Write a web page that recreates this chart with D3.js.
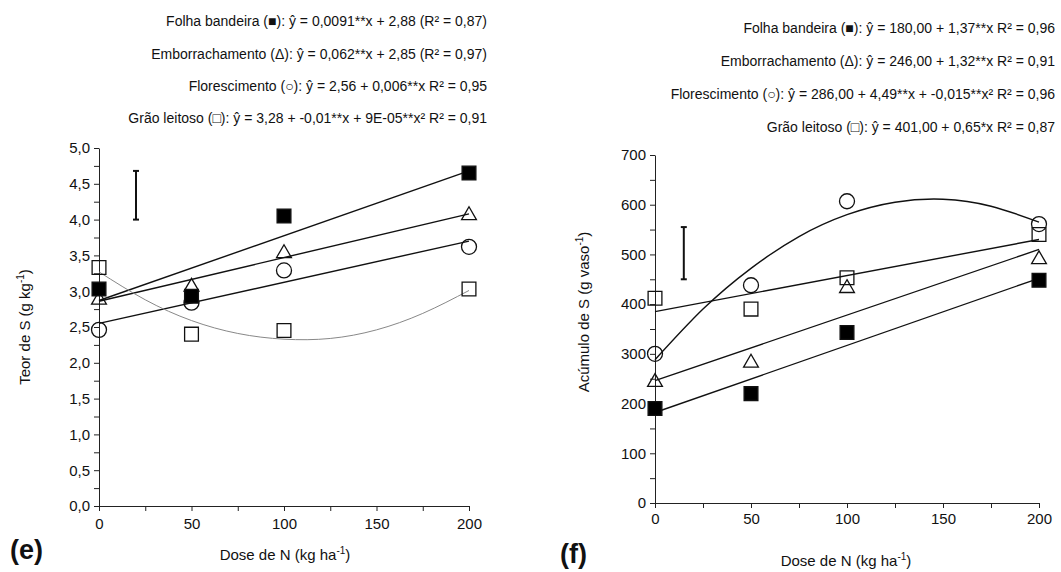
<!DOCTYPE html>
<html lang="pt">
<head>
<meta charset="UTF-8">
<title>Teor e acúmulo de S</title>
<script src="https://d3js.org/d3.v7.min.js"></script>
<style>
    body { margin: 0; background: #fff; }
    text { font-family: "Liberation Sans", Arial, sans-serif; fill: #111; }
    .axis path, .axis line { stroke: #222; stroke-width: 1; }
    .axis text { font-size: 15px; }
</style>
</head>
<body>
<script>
    // doses de N
    var doses = [0, 50, 100, 200];
    var xTicks = [0, 50, 100, 150, 200];

    // (e) teor de S (g kg-1)
    var teorFolha = [3.03, 2.93, 4.05, 4.65];
    var teorEmbor = [2.88, 3.06, 3.53, 4.06];
    var teorFlor = [2.46, 2.84, 3.29, 3.62];
    var teorGrao = [3.33, 2.40, 2.45, 3.03];

    // (f) acúmulo de S (g vaso-1)
    var acumFolha = [190, 220, 343, 448];
    var acumEmbor = [243, 282, 432, 490];
    var acumFlor = [300, 438, 607, 561];
    var acumGrao = [412, 390, 453, 540];

    // fitted lines
    var lineX = [0, 200];
    var teorFolhaFit = [2.87, 4.68];
    var teorEmborFit = [2.86, 4.08];
    var teorFlorFit = [2.55, 3.70];
    var acumFolhaFit = [182, 452];
    var acumEmborFit = [246, 510];
    var acumGraoFit = [385, 530];

    var curveX = [0, 25, 50, 75, 100, 125, 150, 175, 200];
    var teorGraoFit = [3.27, 2.88, 2.59, 2.41, 2.33, 2.34, 2.46, 2.69, 3.01];
    var acumFlorFit = [288, 390, 472, 536, 580, 605, 611, 597, 565];

    // error bars (dms)
    var teorBar = { x: 20, lo: 4.0, hi: 4.68 };
    var acumBar = { x: 15, lo: 450, hi: 555 };

    var teorEq = [
        "Folha bandeira (■): ŷ = 0,0091**x + 2,88 (R² = 0,87)",
        "Emborrachamento (Δ): ŷ = 0,062**x + 2,85 (R² = 0,97)",
        "Florescimento (○): ŷ = 2,56 + 0,006**x R² = 0,95",
        "Grão leitoso (□): ŷ = 3,28 + -0,01**x + 9E-05**x² R² = 0,91"
    ];
    var acumEq = [
        "Folha bandeira (■): ŷ = 180,00 + 1,37**x R² = 0,96",
        "Emborrachamento (Δ): ŷ =  246,00 + 1,32**x R² = 0,91",
        "Florescimento (○): ŷ = 286,00 + 4,49**x + -0,015**x² R² = 0,96",
        "Grão leitoso (□): ŷ = 401,00 + 0,65*x R² = 0,87"
    ];

    var svg = d3.select("body").append("svg")
        .attr("width", 1061)
        .attr("height", 572);

    var comma = function(d) { return d3.format(".1f")(d).replace(".", ","); };

    function panel(opt) {
        var x = d3.scaleLinear().domain([0, 200]).range([opt.left, opt.right]);
        var y = d3.scaleLinear().domain(opt.yDomain).range([opt.bottom, opt.top]);
        var g = svg.append("g");

        // minor ticks
        g.append("g").attr("class", "axis")
            .attr("transform", "translate(" + opt.left + ",0)")
            .call(d3.axisLeft(y).tickValues(opt.yMinor).tickSize(5).tickFormat(""))
            .select(".domain").remove();
        g.append("g").attr("class", "axis")
            .attr("transform", "translate(0," + opt.bottom + ")")
            .call(d3.axisBottom(x).tickValues(d3.range(25, 200, 50)).tickSize(5).tickFormat(""))
            .select(".domain").remove();

        g.append("g").attr("class", "axis")
            .attr("transform", "translate(" + opt.left + ",0)")
            .call(d3.axisLeft(y).tickValues(opt.yTicks).tickSize(5).tickSizeOuter(0)
                .tickPadding(4).tickFormat(opt.yFormat));
        g.append("g").attr("class", "axis")
            .attr("transform", "translate(0," + opt.bottom + ")")
            .call(d3.axisBottom(x).tickValues(xTicks).tickSize(5).tickSizeOuter(0)
                .tickPadding(opt.xPad));

        // error bar
        var b = opt.bar;
        var bg = g.append("g").attr("stroke", "#111").attr("stroke-width", 2);
        bg.append("line").attr("x1", x(b.x)).attr("x2", x(b.x)).attr("y1", y(b.lo)).attr("y2", y(b.hi));
        bg.selectAll(".cap").data([b.lo, b.hi]).enter().append("line")
            .attr("x1", x(b.x) - 3).attr("x2", x(b.x) + 3)
            .attr("y1", function(d) { return y(d); }).attr("y2", function(d) { return y(d); });

        // fitted lines
        var line = d3.line().x(function(d) { return x(d[0]); }).y(function(d) { return y(d[1]); });
        opt.fits.forEach(function(f) {
            g.append("path")
                .datum(d3.zip(f.xs, f.ys))
                .attr("fill", "none")
                .attr("stroke", f.color || "#111")
                .attr("stroke-width", f.width || 1.4)
                .attr("d", line.curve(f.xs.length > 2 ? d3.curveNatural : d3.curveLinear));
        });

        // markers
        opt.series.forEach(function(s) {
            var pts = g.append("g").selectAll("path").data(d3.zip(doses, s.values)).enter();
            if (s.shape === "circle") {
                pts.append("circle")
                    .attr("cx", function(d) { return x(d[0]); })
                    .attr("cy", function(d) { return y(d[1]); })
                    .attr("r", 7.5)
                    .attr("fill", "none").attr("stroke", "#111").attr("stroke-width", 1.3);
            } else {
                var sym = d3.symbol()
                    .type(s.shape === "triangle" ? d3.symbolTriangle : d3.symbolSquare)
                    .size(s.shape === "triangle" ? 95 : 190);
                pts.append("path")
                    .attr("transform", function(d) { return "translate(" + x(d[0]) + "," + y(d[1]) + ")"; })
                    .attr("d", sym)
                    .attr("fill", s.filled ? "#000" : "none")
                    .attr("stroke", "#111").attr("stroke-width", 1.3);
            }
        });

        // equations
        g.selectAll(".eq").data(opt.eq).enter().append("text")
            .attr("x", opt.eqX)
            .attr("y", function(d, i) { return opt.eqY[i]; })
            .attr("text-anchor", "end")
            .attr("dominant-baseline", "middle")
            .attr("font-size", 14)
            .text(function(d) { return d; });

        // axis titles
        var xt = g.append("text")
            .attr("x", opt.xTitle[0]).attr("y", opt.xTitle[1])
            .attr("text-anchor", "middle").attr("font-size", 15);
        xt.append("tspan").text("Dose de N (kg ha");
        xt.append("tspan").attr("dy", -6).attr("font-size", 10).text("-1");
        xt.append("tspan").attr("dy", 6).text(")");

        var yt = g.append("text")
            .attr("transform", "translate(" + opt.yTitle[0] + "," + opt.yTitle[1] + ") rotate(-90)")
            .attr("text-anchor", "middle").attr("font-size", 15);
        yt.append("tspan").text(opt.yLabel);
        yt.append("tspan").attr("dy", -6).attr("font-size", 10).text("-1");
        yt.append("tspan").attr("dy", 6).text(")");

        g.append("text")
            .attr("x", opt.tag[0]).attr("y", opt.tag[1])
            .attr("font-size", 27).attr("font-weight", "bold")
            .text(opt.tagText);
    }

    panel({
        left: 99, right: 469, top: 148, bottom: 506,
        yDomain: [0, 5],
        yTicks: d3.range(0, 5.01, 0.5),
        yMinor: d3.range(0.25, 5, 0.5),
        yFormat: comma,
        xPad: 7,
        bar: teorBar,
        fits: [
            { xs: lineX, ys: teorFolhaFit },
            { xs: lineX, ys: teorEmborFit },
            { xs: lineX, ys: teorFlorFit },
            { xs: curveX, ys: teorGraoFit, color: "#888", width: 1 }
        ],
        series: [
            { values: teorGrao, shape: "square", filled: false },
            { values: teorFlor, shape: "circle" },
            { values: teorEmbor, shape: "triangle" },
            { values: teorFolha, shape: "square", filled: true }
        ],
        eq: teorEq, eqX: 487, eqY: [22, 55, 87, 119],
        xTitle: [285, 560], yTitle: [30, 327], yLabel: "Teor de S (g kg",
        tag: [10, 559], tagText: "(e)"
    });

    panel({
        left: 655, right: 1039, top: 155, bottom: 503,
        yDomain: [0, 700],
        yTicks: d3.range(0, 701, 100),
        yMinor: d3.range(50, 700, 100),
        yFormat: d3.format("d"),
        xPad: 5,
        bar: acumBar,
        fits: [
            { xs: lineX, ys: acumFolhaFit },
            { xs: lineX, ys: acumEmborFit },
            { xs: lineX, ys: acumGraoFit },
            { xs: curveX, ys: acumFlorFit }
        ],
        series: [
            { values: acumGrao, shape: "square", filled: false },
            { values: acumFlor, shape: "circle" },
            { values: acumEmbor, shape: "triangle" },
            { values: acumFolha, shape: "square", filled: true }
        ],
        eq: acumEq, eqX: 1055, eqY: [29, 62, 95, 128],
        xTitle: [846, 566], yTitle: [589, 312], yLabel: "Acúmulo de S (g vaso",
        tag: [560, 563], tagText: "(f)"
    });
</script>
</body>
</html>
